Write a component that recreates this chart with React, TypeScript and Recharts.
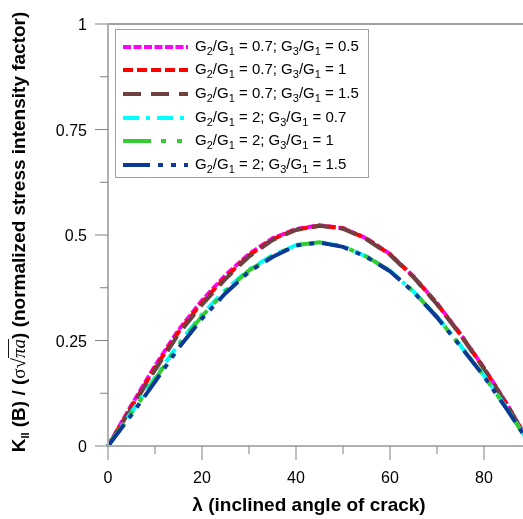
import React from "react";
import { LineChart, Line, XAxis, YAxis, Legend, Label, ReferenceLine } from "recharts";

const angles = [0, 5, 10, 15, 20, 25, 30, 35, 40, 45, 50, 55, 60, 65, 70, 75, 80, 85, 90];
const s1 = [0, 0.097, 0.19, 0.275, 0.345, 0.405, 0.455, 0.492, 0.514, 0.523, 0.516, 0.492, 0.455, 0.402, 0.338, 0.265, 0.185, 0.097, 0];
const s2 = [0, 0.093, 0.185, 0.27, 0.34, 0.4, 0.452, 0.49, 0.513, 0.522, 0.516, 0.491, 0.454, 0.401, 0.337, 0.264, 0.184, 0.096, 0];
const s3 = [0, 0.09, 0.18, 0.265, 0.335, 0.396, 0.449, 0.488, 0.512, 0.522, 0.515, 0.49, 0.453, 0.4, 0.336, 0.263, 0.183, 0.095, 0];
const s4 = [0, 0.08, 0.162, 0.242, 0.312, 0.37, 0.418, 0.452, 0.476, 0.483, 0.473, 0.449, 0.415, 0.366, 0.307, 0.238, 0.167, 0.087, 0];
const s5 = [0, 0.078, 0.158, 0.238, 0.308, 0.367, 0.416, 0.45, 0.476, 0.483, 0.473, 0.449, 0.415, 0.366, 0.306, 0.237, 0.166, 0.086, 0];
const s6 = [0, 0.074, 0.152, 0.232, 0.302, 0.362, 0.413, 0.448, 0.475, 0.482, 0.472, 0.448, 0.414, 0.365, 0.305, 0.236, 0.165, 0.085, 0];

const g2Ratios = ["0.7", "0.7", "0.7", "2", "2", "2"];
const g3Ratios = ["0.5", "1", "1.5", "0.7", "1", "1.5"];
const seriesKeys = ["s1", "s2", "s3", "s4", "s5", "s6"];
const seriesValues = [s1, s2, s3, s4, s5, s6];
const seriesColors = ["#ff00ff", "#ff0000", "#704040", "#00ffff", "#33cc33", "#0a3a96"];
const seriesDashes = ["8 2.5", "10 4", "18 10", "16 7 4 7", "28 10 5 11 5 11", "27 8 5 8 5 8"];

const xTicks = [0, 10, 20, 30, 40, 50, 60, 70, 80, 90];
const yTicks = [0, 0.125, 0.25, 0.375, 0.5, 0.625, 0.75, 0.875, 1];
const yTickLabels: Record<string, string> = { "0": "0", "0.25": "0.25", "0.5": "0.5", "0.75": "0.75", "1": "1" };

const data = angles.map((a, i) => {
  const row: Record<string, number> = { angle: a };
  seriesKeys.forEach((k, j) => (row[k] = seriesValues[j][i]));
  return row;
});

const FONT = "'Liberation Sans', Arial, sans-serif";
const SERIF = "'Liberation Serif', 'Times New Roman', serif";

const XTick = (props: any) => {
  const { x, y, payload } = props;
  const v = payload.value;
  const major = v % 20 === 0;
  return (
    <g>
      <line x1={x} y1={y} x2={x} y2={y + (major ? 14 : 8)} stroke="#808080" strokeWidth={1} />
      {major && (
        <text x={x} y={y + 37} textAnchor="middle" fontSize={16} fill="#000" fontFamily={FONT}>
          {v}
        </text>
      )}
    </g>
  );
};

const YTick = (props: any) => {
  const { x, y, payload } = props;
  const v = payload.value;
  const lbl = yTickLabels[String(v)];
  return (
    <g>
      <line x1={x - (lbl ? 13 : 8)} y1={y} x2={x} y2={y} stroke="#808080" strokeWidth={1} />
      {lbl && (
        <text x={x - 21} y={y + 6} textAnchor="end" fontSize={16} fill="#000" fontFamily={FONT}>
          {lbl}
        </text>
      )}
    </g>
  );
};

const XTitle = () => (
  <text x={301} y={503} textAnchor="middle" fontSize={19} fontWeight="bold" fill="#000" fontFamily={FONT}>
    λ (inclined angle of crack)
  </text>
);

const YTitle = () => (
  <text
    x={17}
    y={224}
    transform="rotate(-90, 17, 224)"
    textAnchor="middle"
    fontSize={19}
    fontWeight="bold"
    fill="#000"
    fontFamily={FONT}
  >
    K
    <tspan fontSize={11} dy={4}>II</tspan>
    <tspan dy={-4}> (B) / (</tspan>
    <tspan fontWeight="normal" fontFamily={SERIF}>σ√</tspan>
    <tspan fontWeight="normal" fontStyle="italic" fontFamily={SERIF} textDecoration="overline" style={{ textDecoration: "overline" }}>πa</tspan>
    <tspan>) (normalized stress intensity factor)</tspan>
  </text>
);

const LegendBox = () => (
  <div
    style={{
      width: 254,
      height: 149,
      boxSizing: "border-box",
      border: "1px solid #a0a0a0",
      background: "#fff",
      paddingTop: 5,
      fontFamily: FONT,
      fontSize: 15,
      color: "#000",
    }}
  >
    {seriesKeys.map((k, i) => (
      <div key={k} style={{ display: "flex", alignItems: "center", height: 23.6, whiteSpace: "nowrap" }}>
        <svg width={66} height={10} style={{ marginLeft: 7, flex: "none" }}>
          <line x1={0} y1={5} x2={65} y2={5} stroke={seriesColors[i]} strokeWidth={4} strokeDasharray={seriesDashes[i]} />
        </svg>
        <span style={{ marginLeft: 6 }}>
          G<sub style={{ fontSize: 11 }}>2</sub>/G<sub style={{ fontSize: 11 }}>1</sub> = {g2Ratios[i]}; G
          <sub style={{ fontSize: 11 }}>3</sub>/G<sub style={{ fontSize: 11 }}>1</sub> = {g3Ratios[i]}
        </span>
      </div>
    ))}
  </div>
);

export default function App() {
  return (
    <div style={{ position: "fixed", left: 8, top: 8, width: 515, height: 511, overflow: "hidden", fontFamily: FONT }}>
      <LineChart width={530} height={511} data={data} margin={{ top: 16, right: 7, bottom: 13, left: 0 }}>
        <XAxis
          dataKey="angle"
          type="number"
          domain={[0, 90]}
          ticks={xTicks}
          tickSize={0}
          tickMargin={0}
          tickLine={false}
          tick={<XTick />}
          axisLine={{ stroke: "#b0b0b0", strokeWidth: 2 }}
          height={60}
          interval={0}
        >
          <Label content={() => <XTitle />} />
        </XAxis>
        <YAxis
          type="number"
          domain={[0, 1]}
          ticks={yTicks}
          tickSize={0}
          tickMargin={0}
          tickLine={false}
          tick={<YTick />}
          axisLine={{ stroke: "#b0b0b0", strokeWidth: 2 }}
          width={100}
          interval={0}
        >
          <Label content={() => <YTitle />} />
        </YAxis>
        <ReferenceLine y={1} stroke="#a0a0a0" strokeWidth={2} />
        {seriesKeys.map((k, i) => (
          <Line
            key={k}
            type="linear"
            dataKey={k}
            stroke={seriesColors[i]}
            strokeWidth={4}
            strokeDasharray={seriesDashes[i]}
            dot={false}
            activeDot={false}
            isAnimationActive={false}
          />
        ))}
        <Legend
          layout="vertical"
          align="center"
          verticalAlign="middle"
          content={() => <LegendBox />}
          wrapperStyle={{ position: "absolute", left: 107, top: 21, width: 254, height: 149, bottom: "auto", right: "auto" }}
        />
      </LineChart>
    </div>
  );
}
